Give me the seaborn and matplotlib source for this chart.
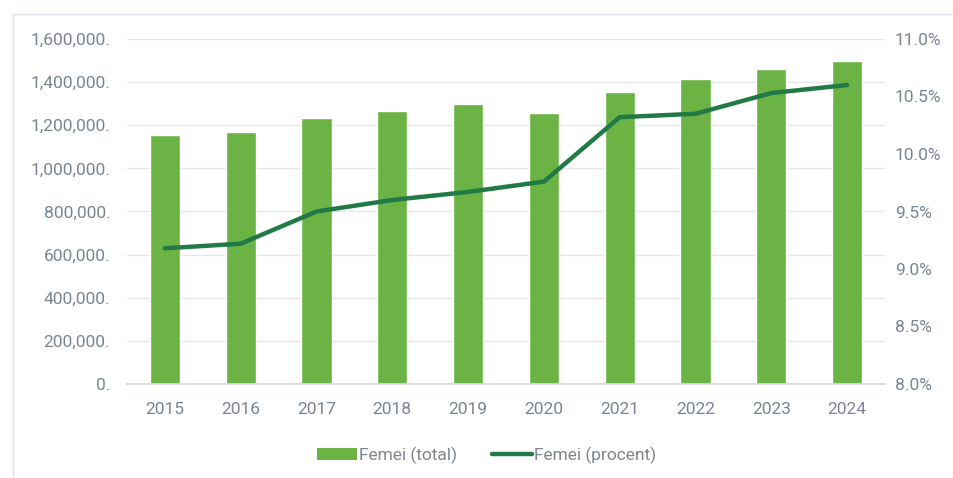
import matplotlib
matplotlib.use("Agg")
import matplotlib.pyplot as plt
import matplotlib.ticker as mticker
from matplotlib.patches import Rectangle, Patch
from matplotlib.lines import Line2D
import numpy as np
import pandas as pd
import seaborn as sns

# Data
years = ["2015", "2016", "2017", "2018", "2019", "2020", "2021", "2022", "2023", "2024"]
femei_total = [1155000, 1167000, 1232000, 1265000, 1297000, 1258000, 1354000, 1414000, 1462000, 1499000]
femei_procent = [9.18, 9.22, 9.50, 9.60, 9.67, 9.76, 10.32, 10.35, 10.53, 10.60]

bar_color = "#6AB344"
line_color = "#217A45"
text_color = "#7A8594"
grid_color = "#E3E7EC"
fs = 12.5

sns.set_theme(style="white")
plt.rcParams["font.family"] = ["Roboto", "DejaVu Sans"]

df = pd.DataFrame({"an": years, "total": femei_total, "procent": femei_procent})

fig = plt.figure(figsize=(9.54, 4.78), dpi=100)
ax = fig.add_axes([127 / 954, (478 - 384) / 478, 758 / 954, 345 / 478])

sns.barplot(data=df, x="an", y="total", color=bar_color, width=0.4,
            saturation=1, ax=ax, zorder=2)
ax.set_xlim(-0.5, len(years) - 0.5)
ax.set_ylim(0, 1600000)
ax.set_yticks(np.arange(0, 1600001, 200000))
ax.yaxis.set_major_formatter(mticker.FuncFormatter(lambda v, p: f"{v:,.0f}."))
ax.grid(axis="y", color=grid_color, linewidth=1, zorder=0)
ax.set_axisbelow(True)
ax.set_xlabel("")
ax.set_ylabel("")
for s in ["top", "right", "left"]:
    ax.spines[s].set_visible(False)
ax.spines["bottom"].set_color("#D5DBE2")
ax.tick_params(axis="both", length=0, labelsize=fs, labelcolor=text_color)
ax.tick_params(axis="x", pad=13)
ax.tick_params(axis="y", pad=12)

ax2 = ax.twinx()
sns.lineplot(x=np.arange(len(years)), y=femei_procent, color=line_color,
             linewidth=3.2, ax=ax2, zorder=3)
ax2.set_ylim(8.0, 11.0)
ax2.set_yticks(np.arange(8.0, 11.01, 0.5))
ax2.yaxis.set_major_formatter(mticker.FuncFormatter(lambda v, p: f"{v:.1f}%"))
ax2.tick_params(axis="y", length=0, labelsize=fs, labelcolor=text_color, pad=7)
for s in ["top", "right", "left", "bottom"]:
    ax2.spines[s].set_visible(False)
ax2.set_ylabel("")

# light outer frame of the chart area
fig.add_artist(Rectangle((13 / 954, -0.1), 1.2, 1.1 - 14 / 478, transform=fig.transFigure,
                         fill=False, edgecolor="#DDE2E8", linewidth=1))

handles = [Patch(facecolor=bar_color, edgecolor="none"),
           Line2D([0], [0], color=line_color, linewidth=3.2)]
fig.legend(handles, ["Femei (total)", "Femei (procent)"], loc="center",
           bbox_to_anchor=(0.51, 23 / 478), ncol=2, frameon=False,
           fontsize=fs, labelcolor=text_color, handlelength=2.3,
           handletextpad=0.15, columnspacing=2.0)

fig.savefig("out.png", dpi=100, facecolor="white")
